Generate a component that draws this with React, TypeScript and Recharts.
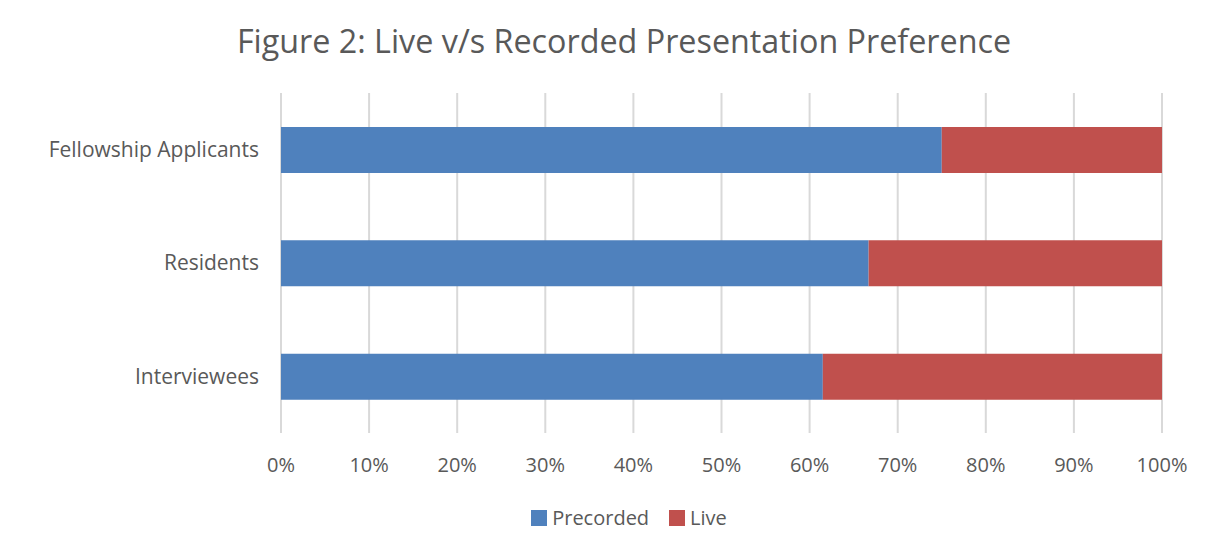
import React from "react";
import { BarChart, Bar, XAxis, YAxis, CartesianGrid, Legend } from "recharts";

const categories = ["Fellowship Applicants", "Residents", "Interviewees"];
const precorded = [75, 66.7, 61.5];
const live = [25, 33.3, 38.5];
const xTicks = [0, 10, 20, 30, 40, 50, 60, 70, 80, 90, 100];
const seriesNames = ["Precorded", "Live"];
const seriesColors = ["#4F81BD", "#C0504D"];

const data = categories.map((name, i) => ({ name, Precorded: precorded[i], Live: live[i] }));

const FONT = "'Open Sans', sans-serif";
const TEXT = "#595959";

const LegendContent = () => (
  <div style={{ display: "flex", justifyContent: "center", alignItems: "center", fontSize: 20, fontFamily: FONT, color: TEXT }}>
    {seriesNames.map((n, i) => (
      <div key={n} style={{ display: "flex", alignItems: "center", marginRight: i === 0 ? 20 : 0 }}>
        <span style={{ display: "inline-block", width: 16, height: 16, background: seriesColors[i], marginRight: 5 }} />
        <span>{n}</span>
      </div>
    ))}
  </div>
);

export default function App() {
  return (
    <div style={{ position: "absolute", left: 0, top: 0, width: 1210, height: 549, background: "#fff", fontFamily: FONT }}>
      <div style={{ position: "absolute", top: 18, left: 0, width: 1248, textAlign: "center", fontSize: 32.3, color: TEXT, fontFamily: FONT }}>
        Figure 2: Live v/s Recorded Presentation Preference
      </div>
      <BarChart
        width={1210}
        height={549}
        layout="vertical"
        data={data}
        margin={{ top: 93, right: 48, bottom: 0, left: 0 }}
      >
        <CartesianGrid horizontal={false} stroke="#D9D9D9" strokeWidth={2} />
        <XAxis
          type="number"
          domain={[0, 100]}
          ticks={xTicks}
          tickFormatter={(v) => `${v}%`}
          axisLine={false}
          tickLine={false}
          tick={{ fill: TEXT, fontSize: 20, fontFamily: FONT }}
          tickMargin={19}
          height={60}
          interval={0}
        />
        <YAxis
          type="category"
          dataKey="name"
          width={281}
          axisLine={false}
          tickLine={false}
          tick={{ fill: TEXT, fontSize: 21, fontFamily: FONT }}
          tickMargin={16}
        />
        <Legend
          verticalAlign="bottom"
          align="center"
          height={56}
          wrapperStyle={{ left: 24, width: 1210, top: 504 }}
          content={LegendContent}
        />
        {seriesNames.map((n, i) => (
          <Bar key={n} dataKey={n} stackId="a" fill={seriesColors[i]} barSize={46} isAnimationActive={false} />
        ))}
      </BarChart>
    </div>
  );
}
